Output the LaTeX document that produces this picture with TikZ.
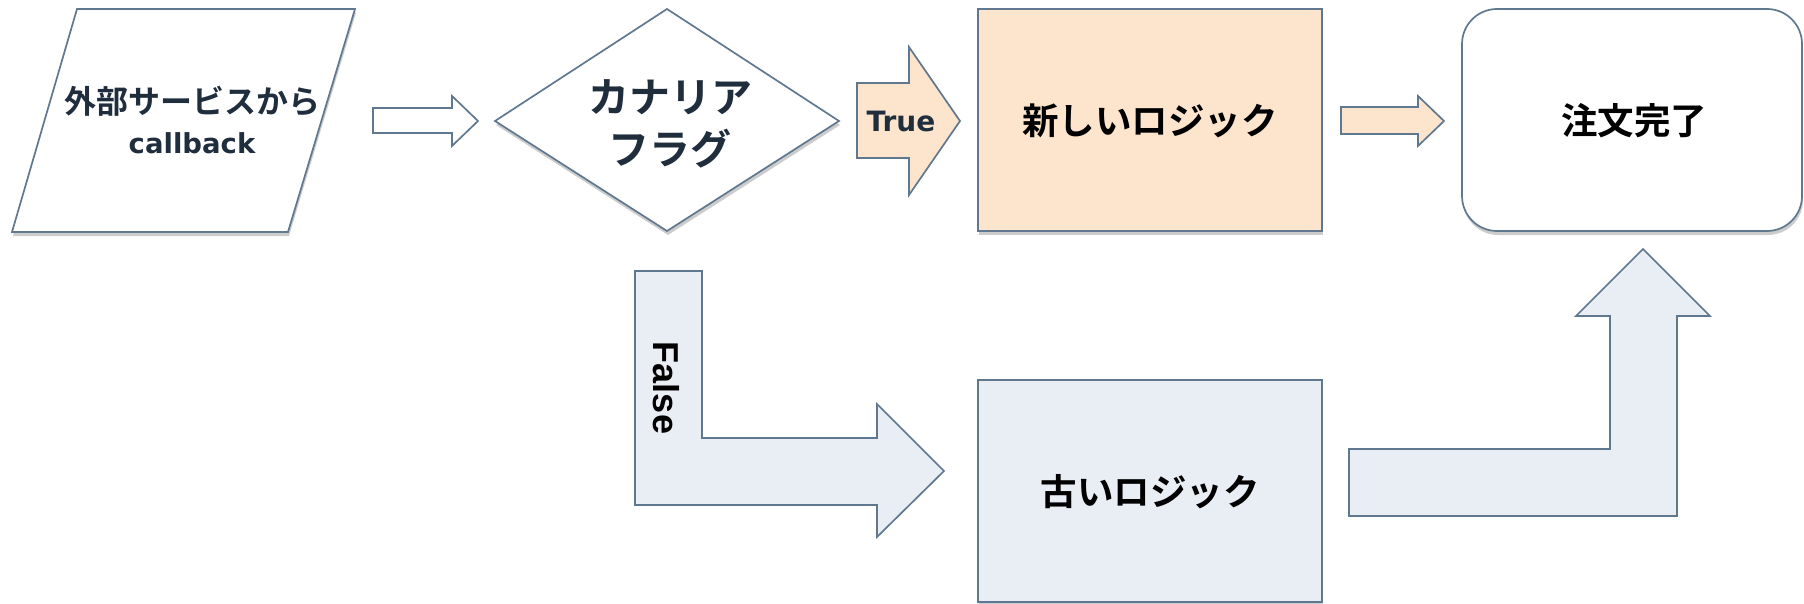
\documentclass[tikz,border=0pt]{standalone}
\usepackage{fontspec}
\usepackage{graphicx}
\usetikzlibrary{shadows}
\newfontfamily\jpb{Noto Sans CJK JP Bold}
\newfontfamily\latb{DejaVu Sans Bold}
\newfontfamily\arb{Liberation Sans Bold}
\definecolor{strk}{HTML}{60788F}
\definecolor{peach}{HTML}{FCE4CD}
\definecolor{pale}{HTML}{E9EEF5}
\definecolor{navy}{HTML}{1F2D3D}
\begin{document}
\begin{tikzpicture}[x=1pt,y=-1pt,
  shp/.style={draw=strk, line width=1.7pt, line join=miter},
  shd/.style={drop shadow={shadow xshift=1pt, shadow yshift=-4pt, opacity=0.2, fill=black}},
  box/.style={shp, shd, rectangle, inner sep=0pt},
  blk/.style={shp},
  jtxt/.style={inner sep=0pt, text=navy, align=center},
  ctxt/.style={inner sep=0pt, text=black, font=\jpb\fontsize{36.5}{40}\selectfont}
]
\useasboundingbox (0,0) rectangle (1804,604);

% input parallelogram
\path[shp, shd, fill=white] (77,9) -- (355,9) -- (288,232) -- (12,232) -- cycle;
\node[jtxt, font=\jpb\fontsize{32}{40}\selectfont] (src) at (192,120) {外部サービスから\\{\latb\fontsize{27.5}{40}\selectfont callback}};

% arrow 1
\path[blk, fill=white] (373,108) -- (452,108) -- (452,96) -- (478,121) -- (452,146) -- (452,133) -- (373,133) -- cycle;

% decision diamond
\path[shp, shd, fill=white] (667,9) -- (839,121) -- (667,231) -- (495,121) -- cycle;
\node[jtxt, font=\jpb\fontsize{41}{52}\selectfont] (flag) at (670,124) {カナリア\\フラグ};

% True arrow
\path[blk, fill=peach] (857,83) -- (909,83) -- (909,47) -- (960,121) -- (909,195) -- (909,158) -- (857,158) -- cycle;
\node[jtxt, font=\latb\fontsize{28}{30}\selectfont] (true) at (901,121) {True};

% new logic
\node[box, fill=peach, minimum width=344pt, minimum height=222pt] (newl) at (1150,120) {};
\node[ctxt] (newt) at (1150,121) {新しいロジック};

% arrow 3
\path[blk, fill=peach] (1341,107) -- (1418,107) -- (1418,96) -- (1444,121) -- (1418,146) -- (1418,134) -- (1341,134) -- cycle;

% end
\node[box, fill=white, rounded corners=35pt, minimum width=340pt, minimum height=222pt] (done) at (1632,120) {};
\node[ctxt] (donet) at (1634,121) {注文完了};

% False arrow
\path[blk, fill=pale] (635,271) -- (702,271) -- (702,438) -- (877,438) -- (877,404) -- (944,471) -- (877,537) -- (877,505) -- (635,505) -- cycle;
\node[inner sep=0pt, text=black, rotate=-90, font=\arb\fontsize{36}{40}\selectfont] (false) at (666,388) {False};

% old logic
\node[box, fill=pale, minimum width=344pt, minimum height=222pt] (oldl) at (1150,491) {};
\node[ctxt] (oldt) at (1150,492) {古いロジック};

% up arrow
\path[blk, fill=pale] (1349,449) -- (1610,449) -- (1610,316) -- (1576,316) -- (1643,249) -- (1710,316) -- (1677,316) -- (1677,516) -- (1349,516) -- cycle;
\end{tikzpicture}
\end{document}
